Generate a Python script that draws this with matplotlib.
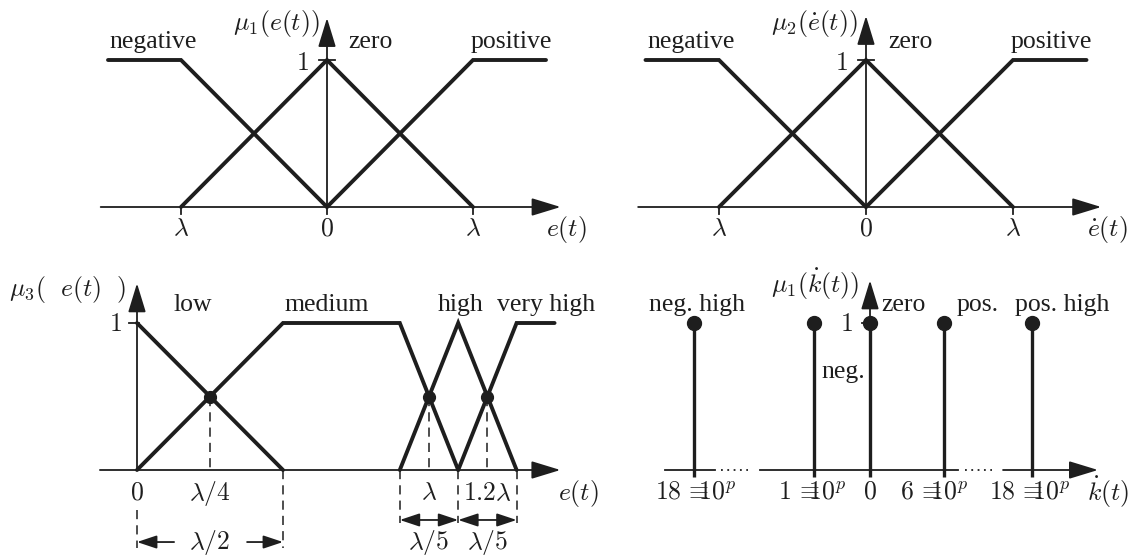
import matplotlib
matplotlib.use("Agg")
import matplotlib.pyplot as plt

plt.rcParams["mathtext.fontset"] = "cm"
plt.rcParams["font.family"] = ["Liberation Serif", "DejaVu Serif"]

INK = "#1e1e1e"
W, H = 1132, 559
FS = 18.5
LW_MF = 2.8      # membership curves
LW_AX = 1.3      # axes

# ── fuzzy sets for e(t) and de/dt (x in units of lambda) ─────────────────────
neg_x, neg_y = [-1.5, -1.0, 0.0], [1, 1, 0]
zero_x, zero_y = [-1.0, 0.0, 1.0], [0, 1, 0]
pos_x, pos_y = [0.0, 1.0, 1.5], [0, 1, 1]
err_ticks = [-1.0, 0.0, 1.0]
err_tick_labels = [r"$\lambda$", r"$0$", r"$\lambda$"]
err_set_names = ["negative", "zero", "positive"]

# ── fuzzy sets for mu_3 ───────────────────────────────────────────────────────
low_x, low_y = [0.0, 0.5], [1, 0]
med_x, med_y = [0.0, 0.5, 0.9, 1.1], [0, 1, 1, 0]
high_x, high_y = [0.9, 1.1, 1.3], [0, 1, 0]
vhigh_x, vhigh_y = [1.1, 1.3, 1.43], [0, 1, 1]
cross_x, cross_y = [0.25, 1.0, 1.2], [0.5, 0.5, 0.5]
mu3_ticks = [0.0, 0.25, 1.0, 1.2]
mu3_tick_labels = [r"$0$", r"$\lambda/4$", r"$\lambda$", r"$1.2\lambda$"]
mu3_set_names = ["low", "medium", "high", "very high"]

# ── singletons for k-dot ──────────────────────────────────────────────────────
sing_pos = [-1.2, -0.38, 0.0, 0.5, 1.1]
sing_mu = [1, 1, 1, 1, 1]
sing_labels = [r"$18\,\equiv\!\!\!\!10^p$", r"$1\,\equiv\!\!\!\!10^p$", r"$0$",
               r"$6\,\equiv\!\!\!\!10^p$", r"$18\,\equiv\!\!\!\!10^p$"]
sing_names = ["neg. high", "neg.", "zero", "pos.", "pos. high"]


def panel(fig, box, origin, sx, sy):
    """Axes covering an image-pixel box with data origin at `origin`."""
    x0, x1, y0, y1 = box
    ox, oy = origin
    ax = fig.add_axes([x0 / W, 1 - y1 / H, (x1 - x0) / W, (y1 - y0) / H])
    ax.set_xlim((x0 - ox) / sx, (x1 - ox) / sx)
    ax.set_ylim((oy - y1) / sy, (oy - y0) / sy)
    ax.axis("off")
    ax.px = (sx, sy)
    return ax


def arrow(ax, start, end, style="-|>", hl=1.8, hw=0.55, lw=LW_AX):
    ax.annotate("", xy=end, xytext=start,
                arrowprops=dict(arrowstyle=f"{style},head_length={hl},head_width={hw}",
                                lw=lw, color=INK, shrinkA=0, shrinkB=0,
                                mutation_scale=10))


def txt(ax, x, y, s, **kw):
    kw.setdefault("ha", "center")
    kw.setdefault("va", "center")
    ax.text(x, y, s, fontsize=FS, color=INK, **kw)


def xticks(ax, xs, length=7):
    sy = ax.px[1]
    for x in xs:
        ax.plot([x, x], [0, -length / sy], color=INK, lw=LW_AX)


def ytick_one(ax, left=8, right=8):
    sx = ax.px[0]
    ax.plot([-left / sx, right / sx], [1, 1], color=INK, lw=LW_AX)


def vdash(ax, x, y0, y1):
    ax.plot([x, x], [y0, y1], color=INK, lw=1.1, ls=(0, (6, 4)))


def error_panel(ax, ylab, xlab, ytip):
    arrow(ax, (-1.55, 0), (1.6, 0))
    arrow(ax, (0, 0), (0, ytip))
    for xs, ys in [(neg_x, neg_y), (zero_x, zero_y), (pos_x, pos_y)]:
        ax.plot(xs, ys, color=INK, lw=LW_MF, solid_capstyle="round",
                solid_joinstyle="miter")
    xticks(ax, err_ticks)
    ytick_one(ax)
    for x, s in zip(err_ticks, err_tick_labels):
        txt(ax, x, -0.15, s)
    for x, s in zip([-1.19, 0.3, 1.26], err_set_names):
        txt(ax, x, 1.12, s)
    txt(ax, -0.17, 0.97, r"$1$")
    txt(ax, -0.35, 1.25, ylab)
    txt(ax, 1.64, -0.15, xlab)


fig = plt.figure(figsize=(W / 100, H / 100), dpi=100)
fig.patch.set_facecolor("white")

# top left: mu_1(e(t))
ax1 = panel(fig, (40, 600, 0, 262), (327, 207), 146, 147)
error_panel(ax1, r"$\mu_1(e(t))$", r"$e(t)$", 1.286)

# top right: mu_2(de/dt)
ax2 = panel(fig, (600, 1132, 0, 262), (866, 207), 147, 147)
error_panel(ax2, r"$\mu_2(\dot{e}(t))$", r"$\dot{e}(t)$", 1.30)

# bottom left: mu_3(e(t))
ax3 = panel(fig, (0, 600, 262, 559), (137, 470), 292, 147)
arrow(ax3, (-0.127, 0), (1.45, 0))
arrow(ax3, (0, 0), (0, 1.27))
for xs, ys in [(low_x, low_y), (med_x, med_y), (high_x, high_y), (vhigh_x, vhigh_y)]:
    ax3.plot(xs, ys, color=INK, lw=LW_MF, solid_capstyle="round",
             solid_joinstyle="miter")
ax3.plot(cross_x, cross_y, "o", color=INK, ms=8.5, ls="none")
ytick_one(ax3, left=8, right=2)
for x, y in zip(cross_x, cross_y):
    vdash(ax3, x, y, 0)
vdash(ax3, 0.0, -0.27, -0.53)
vdash(ax3, 0.5, 0, -0.53)
for x in [0.9, 1.1, 1.3]:
    vdash(ax3, x, 0, -0.36)
for x, s in zip(mu3_ticks, mu3_tick_labels):
    txt(ax3, x, -0.16, s)
for x, s in zip([0.19, 0.65, 1.11, 1.40], mu3_set_names):
    txt(ax3, x, 1.12, s)
txt(ax3, -0.075, 0.985, r"$1$")
txt(ax3, -0.24, 1.225, r"$\mu_3(\ \ e(t)\ \ )$")
txt(ax3, 1.51, -0.16, r"$e(t)$")
# width annotations
arrow(ax3, (0.127, -0.49), (0.0, -0.49), hl=1.2, hw=0.4)
arrow(ax3, (0.377, -0.49), (0.5, -0.49), hl=1.2, hw=0.4)
txt(ax3, 0.25, -0.49, r"$\lambda/2$")
arrow(ax3, (0.9, -0.34), (1.1, -0.34), style="<|-|>", hl=1.2, hw=0.4)
arrow(ax3, (1.1, -0.34), (1.3, -0.34), style="<|-|>", hl=1.2, hw=0.4)
txt(ax3, 1.0, -0.49, r"$\lambda/5$")
txt(ax3, 1.2, -0.49, r"$\lambda/5$")

# bottom right: singletons for k-dot
ax4 = panel(fig, (600, 1132, 262, 559), (870, 470), 147, 147)
ax4.plot([-1.395, -1.054], [0, 0], color=INK, lw=LW_AX)
ax4.plot([-1.014, -0.83], [0, 0], color=INK, lw=LW_AX, ls=(0, (1, 2.5)))
ax4.plot([-0.748, 0.599], [0, 0], color=INK, lw=LW_AX)
ax4.plot([0.646, 0.83], [0, 0], color=INK, lw=LW_AX, ls=(0, (1, 2.5)))
arrow(ax4, (0.905, 0), (1.551, 0))
arrow(ax4, (0, 0), (0, 1.29))
ax4.vlines(sing_pos, -7 / 147, sing_mu, color=INK, lw=2.4)
ax4.plot(sing_pos, sing_mu, "o", color=INK, ms=10, ls="none")
ytick_one(ax4, left=8, right=2)
for x, s in zip([-1.19, -0.395, 0.0, 0.435, 1.088], sing_labels):
    txt(ax4, x, -0.15, s)
for (x, y), s in zip([(-1.18, 1.12), (-0.18, 0.667), (0.23, 1.12),
                      (0.73, 1.12), (1.31, 1.12)], sing_names):
    txt(ax4, x, y, s)
txt(ax4, -0.163, 0.985, r"$1$")
txt(ax4, -0.374, 1.26, r"$\mu_1(\dot{k}(t))$")
txt(ax4, 1.62, -0.15, r"$\dot{k}(t)$")

fig.savefig("out.png", dpi=100, facecolor="white")
